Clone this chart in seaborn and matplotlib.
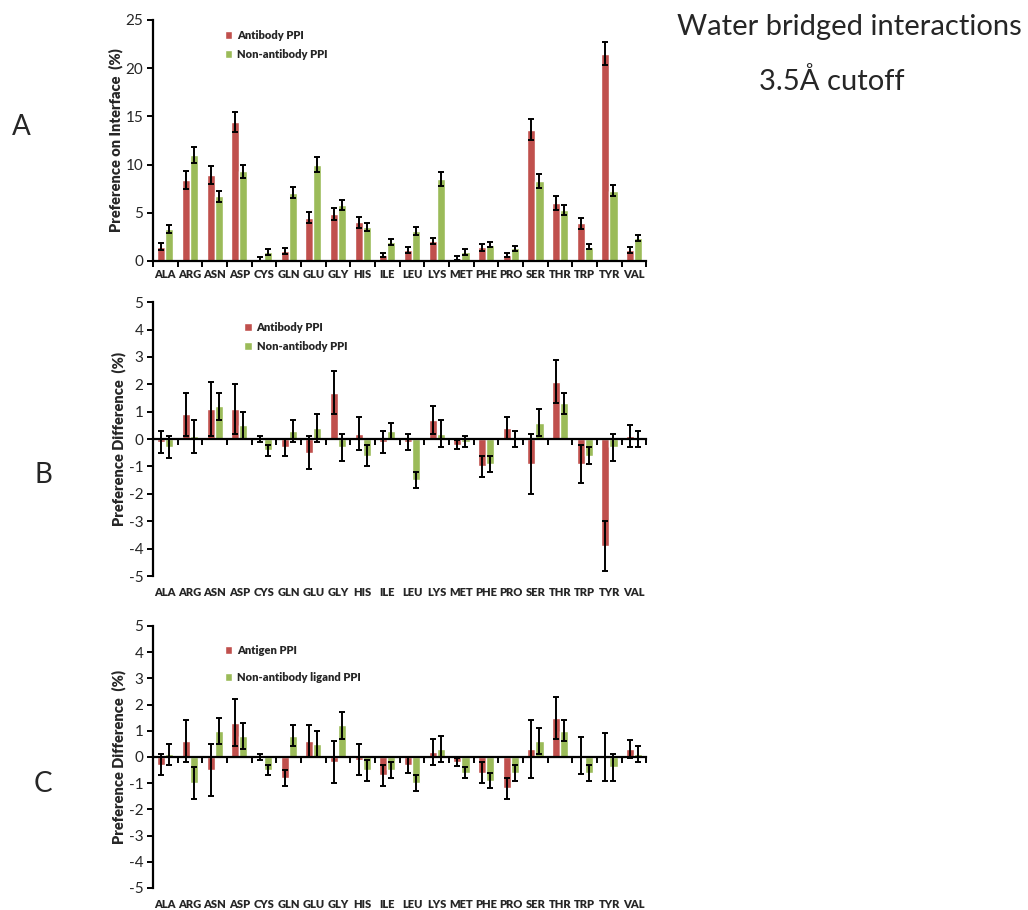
import numpy as np
import pandas as pd
import matplotlib
matplotlib.use("Agg")
import matplotlib.pyplot as plt
import seaborn as sns

residues = ["ALA", "ARG", "ASN", "ASP", "CYS", "GLN", "GLU", "GLY", "HIS", "ILE",
            "LEU", "LYS", "MET", "PHE", "PRO", "SER", "THR", "TRP", "TYR", "VAL"]

# Panel A: preference on interface (%)
a_antibody = [1.5, 8.4, 8.9, 14.4, 0.2, 1.0, 4.5, 4.9, 4.0, 0.6,
              1.1, 2.1, 0.35, 1.4, 0.6, 13.6, 6.0, 3.9, 21.5, 1.1]
a_antibody_err = [0.4, 0.9, 0.9, 1.0, 0.2, 0.3, 0.6, 0.6, 0.6, 0.2,
                  0.3, 0.3, 0.2, 0.4, 0.2, 1.1, 0.7, 0.6, 1.2, 0.3]
a_nonab = [3.3, 11.0, 6.7, 9.3, 0.9, 7.1, 10.0, 5.8, 3.5, 2.0,
           3.1, 8.5, 0.9, 1.7, 1.3, 8.3, 5.3, 1.5, 7.3, 2.4]
a_nonab_err = [0.4, 0.8, 0.6, 0.7, 0.3, 0.6, 0.8, 0.5, 0.4, 0.3,
               0.4, 0.7, 0.3, 0.3, 0.3, 0.7, 0.5, 0.3, 0.6, 0.3]

# Panel B: preference difference (%)
b_antibody = [-0.1, 0.9, 1.1, 1.1, 0.0, -0.3, -0.5, 1.7, 0.2, -0.1,
              -0.1, 0.7, -0.2, -1.0, 0.4, -0.9, 2.1, -0.9, -3.9, 0.1]
b_antibody_err = [0.4, 0.8, 1.0, 0.9, 0.1, 0.3, 0.6, 0.8, 0.6, 0.4,
                  0.3, 0.5, 0.15, 0.4, 0.4, 1.1, 0.8, 0.7, 0.9, 0.4]
b_nonab = [-0.3, 0.1, 1.2, 0.5, -0.4, 0.3, 0.4, -0.3, -0.6, 0.3,
           -1.5, 0.2, -0.1, -0.9, 0.0, 0.6, 1.3, -0.6, -0.3, 0.0]
b_nonab_err = [0.4, 0.6, 0.5, 0.5, 0.2, 0.4, 0.5, 0.5, 0.4, 0.3,
               0.3, 0.5, 0.2, 0.3, 0.3, 0.5, 0.4, 0.3, 0.5, 0.3]

# Panel C: preference difference (%)
c_antigen = [-0.3, 0.6, -0.5, 1.3, 0.0, -0.8, 0.6, -0.2, -0.1, -0.7,
             -0.3, 0.2, -0.2, -0.6, -1.2, 0.3, 1.5, 0.05, 0.0, 0.3]
c_antigen_err = [0.4, 0.8, 1.0, 0.9, 0.1, 0.3, 0.6, 0.8, 0.6, 0.4,
                 0.3, 0.5, 0.15, 0.4, 0.4, 1.1, 0.8, 0.7, 0.9, 0.35]
c_nonab_lig = [0.1, -1.0, 1.0, 0.8, -0.5, 0.8, 0.5, 1.2, -0.5, -0.5,
               -1.0, 0.3, -0.6, -0.9, -0.6, 0.6, 1.0, -0.6, -0.4, 0.1]
c_nonab_lig_err = [0.4, 0.6, 0.5, 0.5, 0.2, 0.4, 0.5, 0.5, 0.4, 0.3,
                   0.3, 0.5, 0.2, 0.3, 0.3, 0.5, 0.4, 0.3, 0.5, 0.3]

RED = "#C0504D"
GREEN = "#9BBB59"

sns.set_theme(style="white")
plt.rcParams["font.family"] = ["Lato", "DejaVu Sans"]
plt.rcParams["axes.linewidth"] = 1.6

fig = plt.figure(figsize=(10.28, 9.10), dpi=100)


def draw_panel(rect, s1_name, s1, e1, s2_name, s2, e2, ylim, yticks, ylabel,
               zero_axis, leg_anchor, leg_spacing):
    ax = fig.add_axes(rect)
    df = pd.DataFrame({
        "residue": residues * 2,
        "value": list(s1) + list(s2),
        "series": [s1_name] * len(residues) + [s2_name] * len(residues),
    })
    sns.barplot(data=df, x="residue", y="value", hue="series", order=residues,
                hue_order=[s1_name, s2_name], palette=[RED, GREEN],
                errorbar=None, width=0.66, gap=0, saturation=1, ax=ax)
    for cont, vals, errs in zip(ax.containers, [s1, s2], [e1, e2]):
        xs = [b.get_x() + b.get_width() / 2 for b in cont]
        ax.errorbar(xs, vals, yerr=errs, fmt="none", ecolor="black",
                    elinewidth=1.4, capsize=2.2, capthick=1.4, zorder=5)
    ax.set_xlim(-0.5, len(residues) - 0.5)
    ax.set_ylim(*ylim)
    ax.set_yticks(yticks)
    ax.set_yticklabels([str(t) for t in yticks], fontsize=8, fontweight="heavy")
    ax.set_ylabel(ylabel, fontsize=10.5, fontweight="heavy", labelpad=2)
    ax.set_xlabel("")
    for side in ["top", "right"]:
        ax.spines[side].set_visible(False)
    ax.spines["left"].set_color("black")
    ax.spines["bottom"].set_color("black")
    ax.spines["left"].set_position(("data", -0.5))
    ax.tick_params(axis="y", direction="out", length=4, width=1.4, color="black",
                   left=True, pad=3)
    ax.set_xticks(np.arange(len(residues) + 1) - 0.5, minor=True)
    if zero_axis:
        ax.spines["bottom"].set_position(("data", 0))
        ax.set_xticks(range(len(residues)))
        ax.set_xticklabels([])
        ax.tick_params(axis="x", which="major", length=0)
        ax.tick_params(axis="x", which="minor", direction="out", length=4,
                       width=1.4, color="black", bottom=True)
        sec = ax.secondary_xaxis(0)
        sec.set_xticks(range(len(residues)))
        sec.set_xticklabels(residues, fontsize=8, fontweight="heavy")
        sec.spines["bottom"].set_visible(False)
        sec.tick_params(axis="x", length=0, pad=8)
    else:
        ax.set_xticks(range(len(residues)))
        ax.set_xticklabels(residues, fontsize=8, fontweight="heavy")
        ax.tick_params(axis="x", which="major", length=0, pad=6)
        ax.tick_params(axis="x", which="minor", direction="out", length=4,
                       width=1.4, color="black", bottom=True)
    handles = ax.containers[0].patches[0], ax.containers[1].patches[0]
    ax.legend(handles=list(handles), labels=[s1_name, s2_name], loc="upper left",
              bbox_to_anchor=leg_anchor, frameon=False, handlelength=0.7,
              handleheight=0.7, handletextpad=0.4, labelspacing=leg_spacing,
              prop={"weight": "heavy", "size": 8})
    return ax


draw_panel([0.1488, 0.7132, 0.48, 0.265],
           "Antibody PPI", a_antibody, a_antibody_err,
           "Non-antibody PPI", a_nonab, a_nonab_err,
           (0, 25), [0, 5, 10, 15, 20, 25], "Preference on Interface  (%)",
           False, (0.125, 1.0), 0.75)

draw_panel([0.1488, 0.367, 0.48, 0.301],
           "Antibody PPI", b_antibody, b_antibody_err,
           "Non-antibody PPI", b_nonab, b_nonab_err,
           (-5, 5), list(range(-5, 6)), "Preference Difference  (%)",
           True, (0.165, 0.965), 0.75)

draw_panel([0.1488, 0.0242, 0.48, 0.288],
           "Antigen PPI", c_antigen, c_antigen_err,
           "Non-antibody ligand PPI", c_nonab_lig, c_nonab_lig_err,
           (-5, 5), list(range(-5, 6)), "Preference Difference  (%)",
           True, (0.125, 0.965), 1.4)

fig.text(21 / 1028, 1 - 127 / 910, "A", fontsize=20, ha="center", va="center")
fig.text(43 / 1028, 1 - 475 / 910, "B", fontsize=20, ha="center", va="center")
fig.text(43 / 1028, 1 - 784 / 910, "C", fontsize=20, ha="center", va="center")
fig.text(849 / 1028, 1 - 27 / 910, "Water bridged interactions", fontsize=21,
         ha="center", va="center")
fig.text(832 / 1028, 1 - 81 / 910, "3.5Å cutoff", fontsize=21,
         ha="center", va="center")

fig.savefig("out.png", dpi=100)
